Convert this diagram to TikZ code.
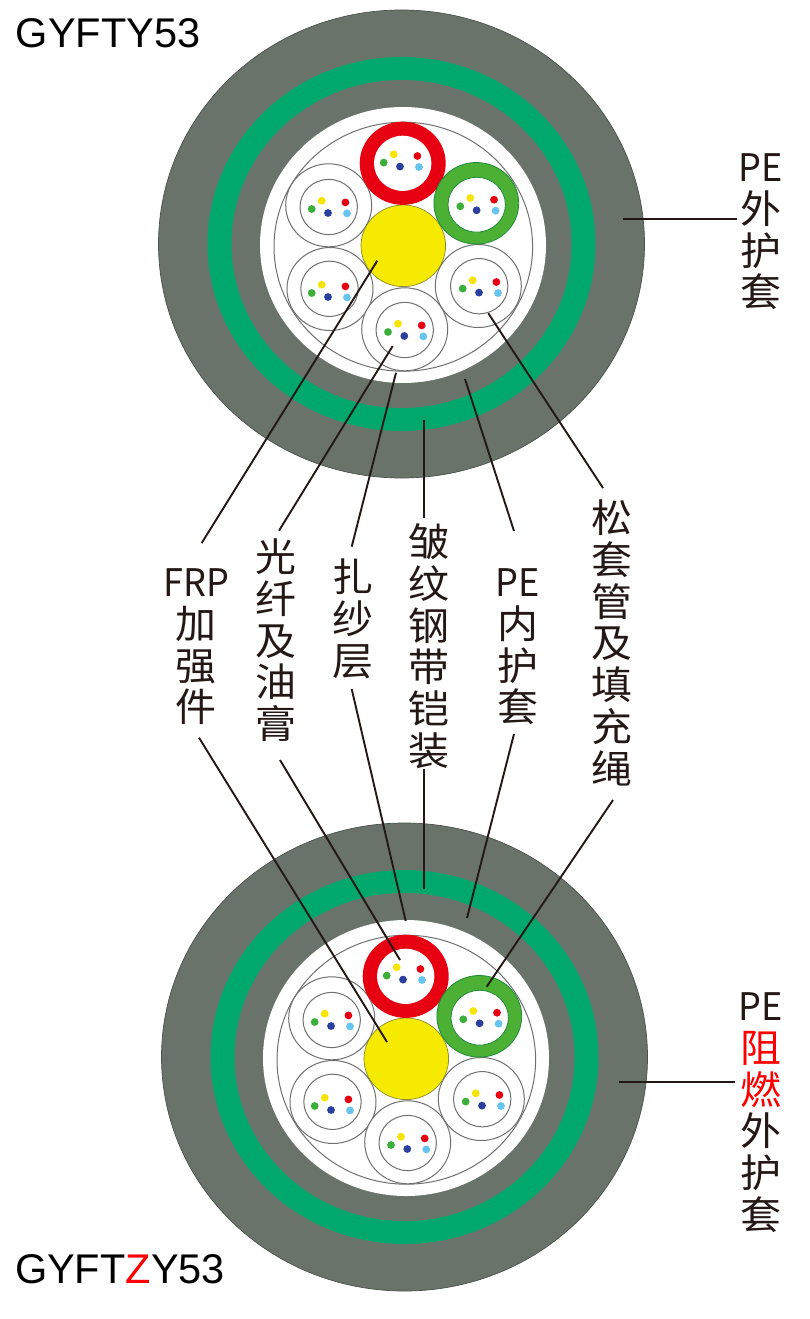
\documentclass[tikz,border=0pt]{standalone}
\usepackage{fontspec}
\usetikzlibrary{calc}
\setmainfont{Liberation Sans}
\newfontfamily\cjkfont[FakeStretch=1.05]{Noto Sans CJK SC}
\newfontfamily\latinlabel[FakeStretch=.95]{Noto Sans CJK SC}
\definecolor{jacket}{HTML}{69736A}
\definecolor{jacketedge}{HTML}{4A524B}
\definecolor{armour}{HTML}{00A86E}
\definecolor{tubeline}{HTML}{707070}
\definecolor{tubered}{HTML}{E60012}
\definecolor{tubegreen}{HTML}{4BB034}
\definecolor{tubegreenedge}{HTML}{1E8A3A}
\definecolor{core}{HTML}{F5EA00}
\definecolor{coreedge}{HTML}{8C8A30}
\definecolor{dotyellow}{HTML}{F7E400}
\definecolor{dotgreen}{HTML}{3CAE3A}
\definecolor{dotblue}{HTML}{2B3F9E}
\definecolor{dotcyan}{HTML}{66C4EE}
\definecolor{inkblack}{HTML}{231815}
\newcommand{\firststrut}{\rule{0pt}{36pt}}
\newcommand{\lat}[1]{{\latinlabel\fontsize{38}{41.7}\selectfont #1}}
\newcommand{\fiberdots}[2]{%
  \fill[dotyellow] (#1,#2) circle[radius=3.9];
  \fill[tubered] ($(#1,#2)+(23.7,1.7)$) circle[radius=3.9];
  \fill[dotgreen] ($(#1,#2)+(-10,8.3)$) circle[radius=3.9];
  \fill[dotblue] ($(#1,#2)+(6.3,12.3)$) circle[radius=3.9];
  \fill[dotcyan] ($(#1,#2)+(25.3,12.7)$) circle[radius=3.9];
}
\newcommand{\plaintube}[6]{%
  \draw[tubewire,fill=white] (#1,#2) ellipse[x radius=43,y radius=41.5];
  \draw[tubewire,fill=white] (#3,#4) ellipse[x radius=28.7,y radius=27.6];
  \fiberdots{#5}{#6}
}
\newcommand{\cablebody}{%
  \draw[jacketedge,line width=.7,fill=jacket] (401.5,244) ellipse[x radius=243,y radius=234];
  \fill[armour] (401.5,244) ellipse[x radius=194,y radius=187];
  \fill[jacket] (401.5,244) ellipse[x radius=170,y radius=164];
  \fill[white] (403,245) ellipse[x radius=143,y radius=138];
  \draw[tubewire] (403.3,246.7) ellipse[x radius=129.3,y radius=124.5];
  \plaintube{328.7}{205.3}{328.7}{207}{321.7}{200.7}
  \plaintube{330}{289}{329.5}{288.8}{321.7}{284.7}
  \plaintube{404.7}{329.3}{404.7}{330}{398}{323.7}
  \plaintube{478.3}{286}{479.2}{286.2}{472.7}{280.3}
  \draw[coreedge,line width=.7,fill=core] (403.3,245.8) ellipse[x radius=42.3,y radius=40.8];
  \fill[tubered] (402.7,163.3) ellipse[x radius=43,y radius=41.6];
  \fill[white] (402.7,163.3) ellipse[x radius=28.7,y radius=27.6];
  \fiberdots{393.7}{154.3}
  \draw[tubegreenedge,line width=.8,fill=tubegreen] (476.3,203.3) ellipse[x radius=42.4,y radius=40.8];
  \draw[tubegreenedge,line width=.8,fill=white] (476.7,204.7) ellipse[x radius=28.7,y radius=27.4];
  \fiberdots{470.3}{198}
}
\tikzset{
  tubewire/.style={tubeline,line width=1},
  leader/.style={inkblack,line width=1.9},
  partlabel/.style={anchor=north,inner sep=0pt,outer sep=0pt,align=center,text=inkblack,
    font=\cjkfont\fontsize{39}{41.7}\selectfont},
  modelname/.style={anchor=base west,inner sep=0pt,outer sep=0pt,text=black,
    font=\fontsize{41.5}{44}\selectfont}
}
\begin{document}
\begin{tikzpicture}[x=1pt,y=-1pt]
\useasboundingbox (0,0) rectangle (809,1319);
\begin{scope}\cablebody\end{scope}
\begin{scope}[shift={(3,813)}]\cablebody\end{scope}
\node[modelname] (modelA) at (16,47.7) {GYFTY53};
\node[modelname] (modelB) at (15,1283) {GYFT\textcolor{red}{Z}Y53};
\node[partlabel] (frp) at (196,560.8) {\firststrut \lat{FRP}\\加\\强\\件};
\node[partlabel] (fiber) at (276,535.8) {\firststrut 光\\纤\\及\\油\\膏};
\node[partlabel] (yarn) at (353,555.8) {\firststrut 扎\\纱\\层};
\node[partlabel] (steel) at (429,520.8) {\firststrut 皱\\纹\\钢\\带\\铠\\装};
\node[partlabel] (inner) at (518,560.8) {\firststrut \lat{PE}\\内\\护\\套};
\node[partlabel] (loose) at (612,496.8) {\firststrut 松\\套\\管\\及\\填\\充\\绳};
\node[partlabel] (outerA) at (761,145.8) {\firststrut \lat{PE}\\外\\护\\套};
\node[partlabel] (outerB) at (761,984.8) {\firststrut \lat{PE}\\\textcolor{red}{阻}\\\textcolor{red}{燃}\\外\\护\\套};
\coordinate (frpA) at (377.3,260.7);
\coordinate (frpB) at (387,1042);
\coordinate (fiberA) at (392.7,346);
\coordinate (fiberB) at (400,960);
\coordinate (yarnA) at (396,372.7);
\coordinate (yarnB) at (405.7,921);
\coordinate (steelA) at (424,420);
\coordinate (steelB) at (424,889);
\coordinate (innerA) at (465,379);
\coordinate (innerB) at (467,918);
\coordinate (looseA) at (488.3,313.3);
\coordinate (looseB) at (486.7,986.7);
\coordinate (jacketA) at (623,218.7);
\coordinate (jacketB) at (619,1081.7);
\draw[leader] ($(frp.north)+(5.7,-17.8)$) -- (frpA);
\draw[leader] ($(frp.north)+(3,176.9)$) -- (frpB);
\draw[leader] ($(fiber.north)+(3,-5.1)$) -- (fiberA);
\draw[leader] ($(fiber.north)+(4,224.2)$) -- (fiberB);
\draw[leader] ($(yarn.north)+(-1.3,-9.1)$) -- (yarnA);
\draw[leader] ($(yarn.north)+(-1.3,133.2)$) -- (yarnB);
\draw[leader] ($(steel.north)+(-5,-3.1)$) -- (steelA);
\draw[leader] ($(steel.north)+(-5,248.2)$) -- (steelB);
\draw[leader] ($(inner.north)+(-4,-29.8)$) -- (innerA);
\draw[leader] ($(inner.north)+(-4,173.2)$) -- (innerB);
\draw[leader] ($(loose.north)+(-9,-8.8)$) -- (looseA);
\draw[leader] ($(loose.north)+(1,303.2)$) -- (looseB);
\draw[leader] ($(outerA.north)+(-24.3,72.9)$) -- (jacketA);
\draw[leader] ($(outerB.north)+(-26,96.9)$) -- (jacketB);
\end{tikzpicture}
\end{document}
